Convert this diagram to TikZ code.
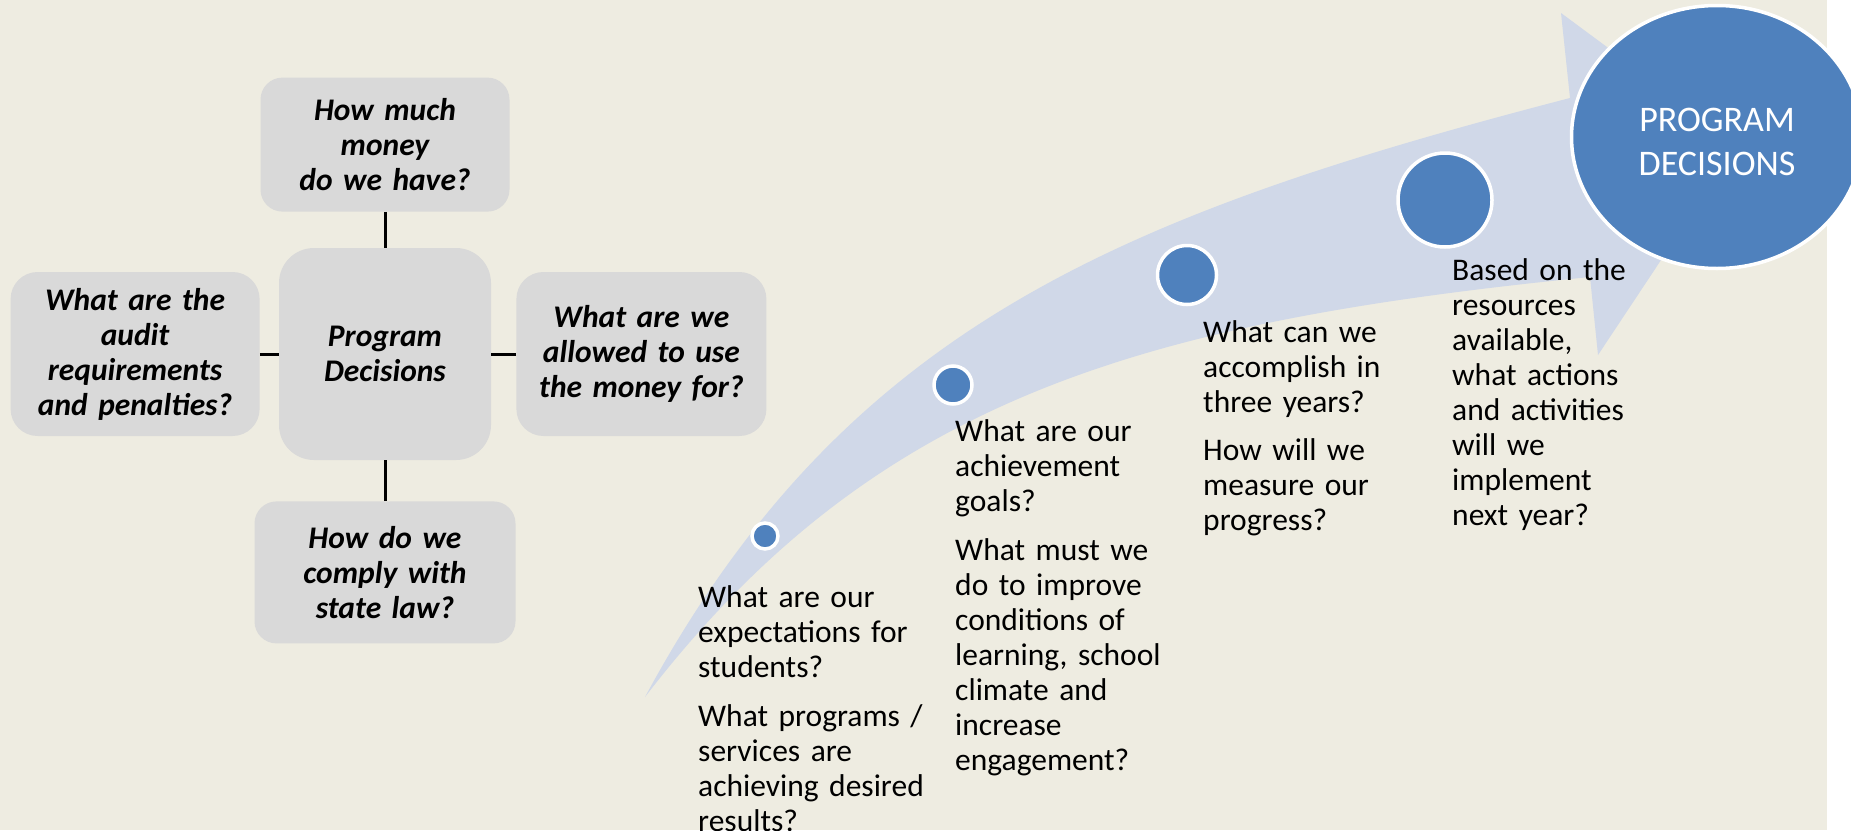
\documentclass[tikz,border=0pt]{standalone}
\usepackage{fontspec}
\setmainfont{Carlito}
\usepackage{tikz}
\usetikzlibrary{positioning}
\usetikzlibrary{shapes.geometric}
\definecolor{tanbg}{HTML}{EEECE1}
\definecolor{boxgray}{HTML}{D9D9D9}
\definecolor{bandblue}{HTML}{D0D8E8}
\definecolor{dotblue}{HTML}{4F81BD}
\tikzset{
    askbox/.style={
        fill=boxgray,
        rounded corners=22pt,
        font=\fontsize{31.5}{35}\selectfont\bfseries\itshape,
        align=center,
        inner sep=2pt
    },
    asktext/.style={
        font=\fontsize{31.5}{35}\selectfont,
        text width=240pt,
        align=left,
        inner sep=0pt,
        anchor=base west
    },
    pathdot/.style={
        circle,
        fill=dotblue,
        draw=white,
        line width=3.5pt,
        inner sep=0pt
    },
    goalnode/.style={
        ellipse,
        fill=dotblue,
        draw=white,
        line width=3.5pt,
        inner sep=0pt
    },
    goallabel/.style={
        text=white,
        font=\fontsize{36}{44}\selectfont,
        align=center,
        inner sep=0pt
    },
    link/.style={
        line width=3pt
    }
}

\begin{document}
\begin{tikzpicture}
[
    x=1pt,
    y=-1pt,
    band/.style={
        fill=bandblue
    }
]
\useasboundingbox (0,0) rectangle (1851,830);
\clip (0,0) rectangle (1851,830);
\fill[white] (0,0) rectangle (1851,830);
\fill[tanbg] (0,0) rectangle (1827,830);

\node[askbox, minimum width=212pt, minimum height=212pt, text width=200pt, rounded corners=35pt] (hub) at (385,354) {Program\\Decisions};
\node[askbox, above=36pt of hub, minimum width=249pt, minimum height=134pt, text width=240pt] (money) {How much\\money\\do we have?};
\node[askbox, left=19pt of hub, minimum width=249pt, minimum height=164pt, text width=240pt, rounded corners=27pt] (audit) {What are the\\audit\\requirements\\and penalties?};
\node[askbox, right=25pt of hub, minimum width=250pt, minimum height=164pt, text width=240pt, rounded corners=27pt] (use) {What are we\\allowed to use\\the money for?};
\node[askbox, below=41pt of hub, minimum width=261pt, minimum height=142pt, text width=250pt] (law) {How do we\\comply with\\state law?};

\draw[link] (money) -- (hub);
\draw[link] (audit) -- (hub);
\draw[link] (use) -- (hub);
\draw[link] (law) -- (hub);

\fill[band] (645,697) .. controls (845,327) and (1120,215) .. (1570,98)
    -- (1561,13) -- (1738,144) -- (1598,355) -- (1590,277)
    .. controls (1140,322) and (875,398) .. (645,697) -- cycle;

\node[pathdot, minimum size=26pt] (d1) at (765,536) {};
\node[pathdot, minimum size=38pt] (d2) at (953,385) {};
\node[pathdot, minimum size=59pt] (d3) at (1187,275) {};
\node[pathdot, minimum size=94pt] (d4) at (1445,200) {};
\node[goalnode, minimum width=291pt, minimum height=263pt,
    label={[goallabel, yshift=-5pt]center:PROGRAM\\DECISIONS}] (goal) at (1717,137) {};

\node[asktext] (q1) at (698,607) {What are our\\expectations for\\students?\\[14pt]What programs /\\services are\\achieving desired\\results?};
\node[asktext] (q2) at (955,441) {What are our\\achievement\\goals?\\[14pt]What must we\\do to improve\\conditions of\\learning, school\\climate and\\increase\\engagement?};
\node[asktext] (q3) at (1203,342) {What can we\\accomplish in\\three years?\\[13pt]How will we\\measure our\\progress?};
\node[asktext] (q4) at (1452,280) {Based on the\\resources\\available,\\what actions\\and activities\\will we\\implement\\next year?};
\end{tikzpicture}
\end{document}
